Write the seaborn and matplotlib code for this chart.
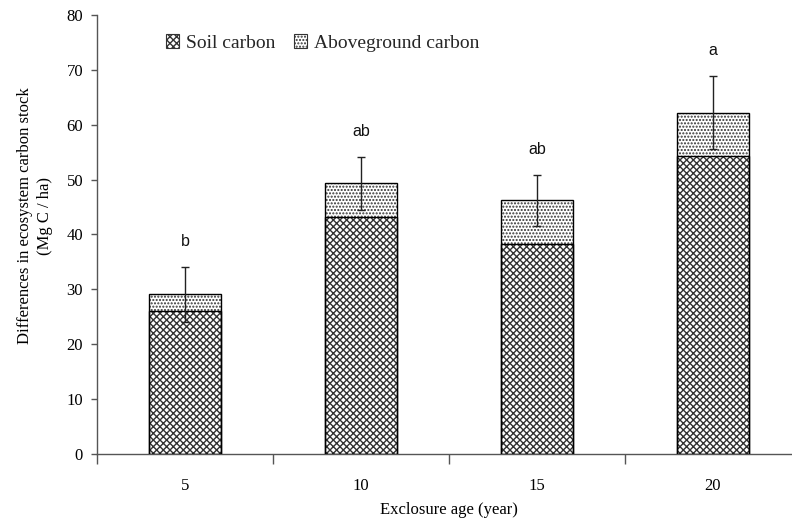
import pandas as pd
import matplotlib
matplotlib.use("Agg")
import matplotlib.pyplot as plt
import matplotlib.patches as mpatches
import seaborn as sns

# Values
ages = ["5", "10", "15", "20"]
soilCarbon = [26.0, 43.2, 38.2, 54.3]
abovegroundCarbon = [3.1, 6.1, 8.0, 7.9]
errors = [5.0, 4.85, 4.6, 6.7]
letters = ["b", "ab", "ab", "a"]

sns.set_theme(style="white")
plt.rcParams["font.family"] = ["Liberation Serif", "DejaVu Serif"]
plt.rcParams["hatch.linewidth"] = 1.0

data = pd.DataFrame({"age": ages, "soil": soilCarbon, "above": abovegroundCarbon, "err": errors})
data["total"] = data["soil"] + data["above"]

soilHatch = "xxxxx"
aboveHatch = "....."
soilHatchColor = "#333333"
aboveHatchColor = "#333333"
axisColor = "#555555"

fig = plt.figure(figsize=(7.92, 5.21), dpi=100)
# The axes runs a little past the right edge of the figure, as in the original.
ax = fig.add_axes([97 / 792, 67 / 521, 704 / 792, 439 / 521])

# Hatched fills (edge colour drives the hatch colour, outline drawn separately).
sns.barplot(data=data, x="age", y="total", color="white", width=0.41, hatch=aboveHatch,
            edgecolor=aboveHatchColor, linewidth=0, ax=ax, zorder=2)
sns.barplot(data=data, x="age", y="soil", color="white", width=0.41, hatch=soilHatch,
            edgecolor=soilHatchColor, linewidth=0, ax=ax, zorder=3)

# Black outlines.
sns.barplot(data=data, x="age", y="total", fill=False, color="black", width=0.41,
            linewidth=1, ax=ax, zorder=4)
sns.barplot(data=data, x="age", y="soil", fill=False, color="black", width=0.41,
            linewidth=1, ax=ax, zorder=4)

positions = range(len(ages))
ax.errorbar(positions, data["total"], yerr=data["err"], fmt="none", ecolor="#222222",
            elinewidth=1, capsize=3, capthick=1, zorder=5)

for i, row in data.iterrows():
    ax.text(i, row["total"] + row["err"] + 4.7, letters[i], ha="center", va="center",
            fontsize=11.5, family=["Liberation Sans", "DejaVu Sans"], color="#111111")

ax.set_xlim(-0.5, len(ages) - 0.5)
ax.set_ylim(0, 80)
ax.set_yticks(range(0, 81, 10))

ax.set_xticks([i - 0.5 for i in range(len(ages) + 1)])
ax.set_xticklabels([])
ax.set_xticks(list(positions), minor=True)
ax.set_xticklabels(ages, minor=True)

for side in ["top", "right"]:
    ax.spines[side].set_visible(False)
for side in ["left", "bottom"]:
    ax.spines[side].set_color(axisColor)
    ax.spines[side].set_linewidth(1)

ax.tick_params(axis="y", left=True, direction="out", length=4, width=1, color=axisColor,
               pad=6, labelsize=12, labelcolor="black")
ax.tick_params(axis="x", which="major", bottom=True, direction="out", length=7, width=1,
               color=axisColor)
ax.tick_params(axis="x", which="minor", bottom=True, length=0, pad=17, labelsize=12,
               labelcolor="black")

ax.set_xlabel("Exclosure age (year)", fontsize=12, labelpad=6, color="black")
ax.set_ylabel("Differences in ecosystem carbon stock\n(Mg C / ha)", fontsize=12,
              linespacing=1.35, color="black")
ax.yaxis.set_label_coords(-0.0625, 0.542)

handles = [
    mpatches.Patch(facecolor="white", edgecolor=soilHatchColor, hatch=soilHatch, linewidth=0.8),
    mpatches.Patch(facecolor="white", edgecolor=aboveHatchColor, hatch=aboveHatch, linewidth=0.8),
]
ax.legend(handles, ["Soil carbon", "Aboveground carbon"], loc="center left",
          bbox_to_anchor=(0.098, 0.936), ncol=2, frameon=False, fontsize=14,
          handlelength=0.67, handleheight=0.67, handletextpad=0.35, columnspacing=0.95,
          borderpad=0, borderaxespad=0)

fig.savefig("out.png", dpi=100)
